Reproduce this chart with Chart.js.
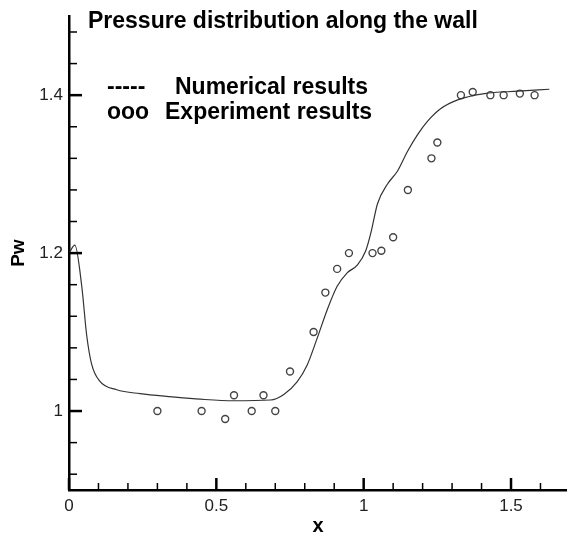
<!DOCTYPE html>
<html>
<head>
<meta charset="utf-8">
<script src="https://cdn.jsdelivr.net/npm/chart.js@4"></script>
<style>
  body { margin: 0; background: #fff; }
  #wrap { width: 567px; height: 538px; }
</style>
</head>
<body>
<div id="wrap"><canvas id="chart" width="567" height="538"></canvas></div>
<script>
// numerical curve
const curveX = [0, 0.02, 0.043, 0.06, 0.077, 0.105, 0.162, 0.241, 0.35, 0.446, 0.558, 0.684, 0.729, 0.774, 0.808, 0.842, 0.877, 0.91, 0.944, 0.979, 1.007, 1.024, 1.047, 1.081, 1.115, 1.149, 1.183, 1.217, 1.262, 1.319, 1.41, 1.523, 1.63];
const curveY = [1.2, 1.21, 1.159, 1.096, 1.059, 1.0375, 1.027, 1.022, 1.018, 1.015, 1.013, 1.014, 1.021, 1.037, 1.058, 1.092, 1.129, 1.158, 1.175, 1.185, 1.203, 1.225, 1.2625, 1.2875, 1.304, 1.329, 1.35, 1.367, 1.383, 1.394, 1.402, 1.405, 1.4075];

// experiment points
const expX = [0.30, 0.45, 0.53, 0.56, 0.62, 0.66, 0.70, 0.75, 0.83, 0.87, 0.91, 0.95, 1.03, 1.06, 1.10, 1.15, 1.23, 1.25, 1.33, 1.37, 1.43, 1.475, 1.53, 1.58];
const expY = [1.0, 1.0, 0.99, 1.02, 1.0, 1.02, 1.0, 1.05, 1.10, 1.15, 1.18, 1.20, 1.20, 1.203, 1.22, 1.28, 1.32, 1.34, 1.40, 1.404, 1.40, 1.40, 1.402, 1.40];

// ticks
const xTicks = [0, 0.1, 0.2, 0.3, 0.4, 0.5, 0.6, 0.7, 0.8, 0.9, 1, 1.1, 1.2, 1.3, 1.4, 1.5, 1.6];
const xMajor = [0, 0.5, 1, 1.5];
const yTicks = [0.92, 0.96, 1, 1.04, 1.08, 1.12, 1.16, 1.2, 1.24, 1.28, 1.32, 1.36, 1.4, 1.44, 1.48];
const yMajor = [1, 1.2, 1.4];

const FONT = "'Liberation Sans', Arial, Helvetica, sans-serif";

const isMajor = (v, list) => list.some(m => Math.abs(m - v) < 1e-6);

// tick marks pointing into the plot, like the original
const innerTicks = {
  id: 'innerTicks',
  afterDraw(chart) {
    const ctx = chart.ctx;
    const xs = chart.scales.x, ys = chart.scales.y;
    const a = chart.chartArea;
    ctx.save();
    ctx.strokeStyle = '#000';
    xTicks.forEach(v => {
      const px = xs.getPixelForValue(v);
      const major = isMajor(v, xMajor);
      ctx.lineWidth = major ? 2.5 : 1.5;
      ctx.beginPath();
      ctx.moveTo(px, a.bottom);
      ctx.lineTo(px, a.bottom - (major ? 12 : 7));
      ctx.stroke();
    });
    yTicks.forEach(v => {
      const py = ys.getPixelForValue(v);
      const major = isMajor(v, yMajor);
      ctx.lineWidth = major ? 2.5 : 1.5;
      ctx.beginPath();
      ctx.moveTo(a.left, py);
      ctx.lineTo(a.left + (major ? 13 : 8), py);
      ctx.stroke();
    });
    ctx.restore();
  }
};

// title and the text legend inside the plot
const textBlock = {
  id: 'textBlock',
  afterDraw(chart) {
    const ctx = chart.ctx;
    ctx.save();
    ctx.fillStyle = '#000';
    ctx.font = 'bold 23px ' + FONT;
    ctx.textBaseline = 'alphabetic';
    ctx.textAlign = 'left';
    ctx.fillText('Pressure distribution along the wall', 88, 28);
    ctx.fillText('-----', 107, 94);
    ctx.fillText('Numerical results', 175, 94);
    ctx.fillText('ooo', 107, 119);
    ctx.fillText('Experiment results', 165, 119);
    ctx.restore();
  }
};

new Chart(document.getElementById('chart'), {
  type: 'scatter',
  data: {
    datasets: [
      {
        label: 'Numerical results',
        data: curveX.map((x, i) => ({ x: x, y: curveY[i] })),
        showLine: true,
        borderColor: '#333',
        borderWidth: 1.2,
        pointRadius: 0,
        cubicInterpolationMode: 'monotone',
        fill: false
      },
      {
        label: 'Experiment results',
        data: expX.map((x, i) => ({ x: x, y: expY[i] })),
        showLine: false,
        pointRadius: 3.5,
        pointBorderWidth: 1.4,
        pointBorderColor: '#444',
        pointBackgroundColor: 'rgba(255,255,255,0)'
      }
    ]
  },
  options: {
    responsive: false,
    devicePixelRatio: 1,
    animation: false,
    layout: { autoPadding: false, padding: { top: 12, right: 0, left: 0, bottom: 0 } },
    plugins: {
      legend: { display: false },
      tooltip: { enabled: false }
    },
    scales: {
      x: {
        type: 'linear',
        min: 0,
        max: 1.69,
        afterBuildTicks: s => { s.ticks = xTicks.map(v => ({ value: v })); },
        afterFit: s => { s.height = 48; s.paddingRight = 0; },
        grid: { display: false, drawTicks: false },
        border: { display: true, color: '#000', width: 2.5 },
        ticks: {
          autoSkip: false,
          maxRotation: 0,
          padding: 6,
          color: '#222',
          font: { family: FONT, size: 17 },
          callback: v => isMajor(v, xMajor) ? String(v) : ''
        },
        title: {
          display: true,
          text: 'x',
          color: '#000',
          font: { family: FONT, size: 20, weight: 'bold' },
          padding: { top: 0, bottom: 0 }
        }
      },
      y: {
        type: 'linear',
        min: 0.9,
        max: 1.5,
        afterBuildTicks: s => { s.ticks = yTicks.map(v => ({ value: v })); },
        afterFit: s => { s.width = 69; },
        grid: { display: false, drawTicks: false },
        border: { display: true, color: '#000', width: 2.5 },
        ticks: {
          autoSkip: false,
          padding: 6,
          color: '#222',
          font: { family: FONT, size: 17 },
          callback: v => isMajor(v, yMajor) ? String(v) : ''
        },
        title: {
          display: true,
          text: 'Pw',
          color: '#000',
          font: { family: FONT, size: 19, weight: 'bold' },
          padding: { top: 7, bottom: 0 }
        }
      }
    }
  },
  plugins: [innerTicks, textBlock]
});
</script>
</body>
</html>
